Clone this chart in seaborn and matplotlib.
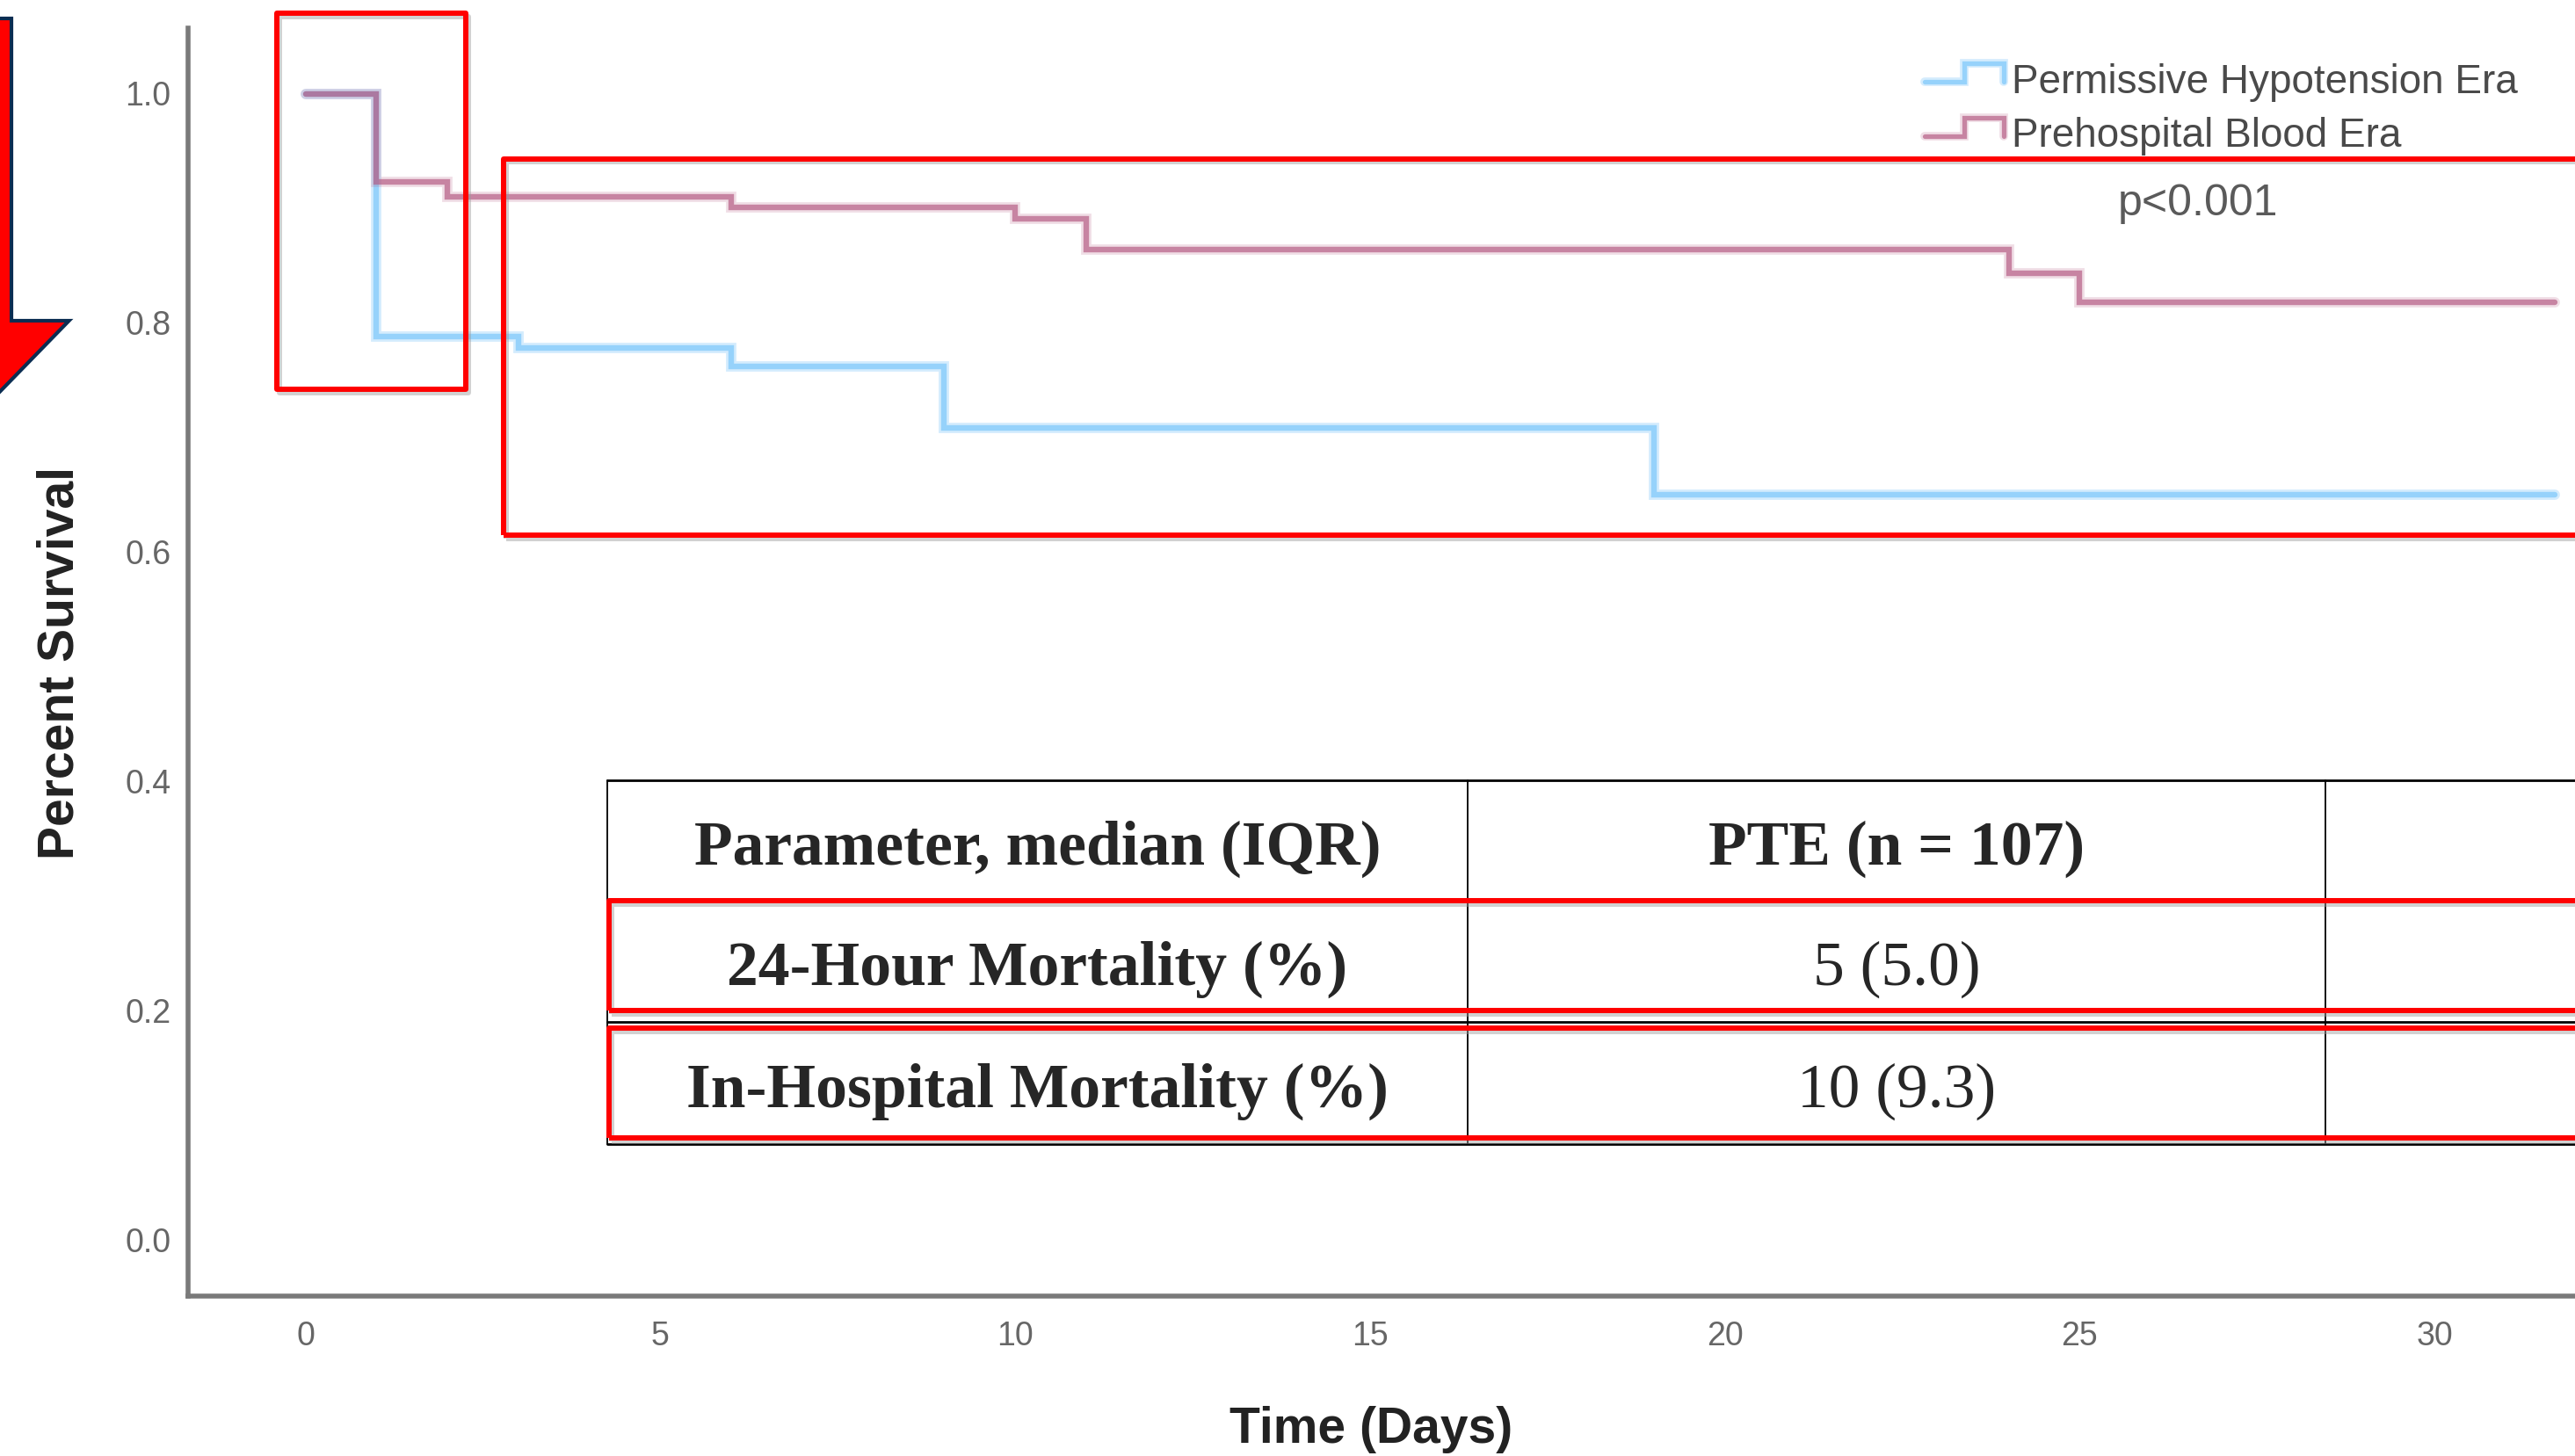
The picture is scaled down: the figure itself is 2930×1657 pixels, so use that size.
import numpy as np
import pandas as pd
import matplotlib
matplotlib.use("Agg")
import matplotlib.pyplot as plt
from matplotlib.lines import Line2D
from matplotlib.patches import Rectangle, Polygon
from matplotlib.legend_handler import HandlerBase
import seaborn as sns

# ---------------- data ----------------
time_ph = [0, 1, 3, 6, 9, 19, 31.7]
surv_ph = [1.0, 0.788, 0.778, 0.762, 0.708, 0.650, 0.650]
time_pb = [0, 1, 2, 6, 10, 11, 24, 25, 31.7]
surv_pb = [1.0, 0.923, 0.910, 0.901, 0.891, 0.864, 0.843, 0.818, 0.818]
series_labels = ["Permissive Hypotension Era", "Prehospital Blood Era"]
p_text = "p<0.001"
x_ticks = [0, 5, 10, 15, 20, 25, 30]
y_ticks = [0.0, 0.2, 0.4, 0.6, 0.8, 1.0]
y_ticklabels = ["0.0", "0.2", "0.4", "0.6", "0.8", "1.0"]
x_label = "Time (Days)"
y_label = "Percent Survival"
table_header = ["Parameter, median (IQR)", "PTE (n = 107)"]
table_params = ["24-Hour Mortality (%)", "In-Hospital Mortality (%)"]
table_values = ["5 (5.0)", "10 (9.3)"]

# ---------------- style ----------------
sns.set_theme(style="white")
plt.rcParams["font.family"] = ["Liberation Sans", "DejaVu Sans"]

W, H = 2930, 1657
fig = plt.figure(figsize=(W / 100, H / 100), dpi=100)
fig.patch.set_facecolor("white")


def fx(x):
    return x / W


def fy(y):
    return 1 - y / H


ax_left, ax_right, ax_top, ax_bot = 214, 2930, 32, 1475
ax = fig.add_axes([fx(ax_left), fy(ax_bot), (ax_right - ax_left) / W, (ax_bot - ax_top) / H])
ax.set_facecolor("white")

BLUE_CORE, BLUE_HALO = "#96d2fb", "#d4ecfd"
RED_BASE = "#b45a82"

df_ph = pd.DataFrame({"t": time_ph, "s": surv_ph})
df_pb = pd.DataFrame({"t": time_pb, "s": surv_pb})

sns.lineplot(data=df_ph, x="t", y="s", drawstyle="steps-post", estimator=None, sort=False,
             color=BLUE_HALO, lw=8.5, ax=ax, legend=False, solid_joinstyle="miter")
sns.lineplot(data=df_ph, x="t", y="s", drawstyle="steps-post", estimator=None, sort=False,
             color=BLUE_CORE, lw=4.6, ax=ax, legend=False, solid_joinstyle="miter")
sns.lineplot(data=df_pb, x="t", y="s", drawstyle="steps-post", estimator=None, sort=False,
             color=RED_BASE, alpha=0.2, lw=8.5, ax=ax, legend=False, solid_joinstyle="miter")
sns.lineplot(data=df_pb, x="t", y="s", drawstyle="steps-post", estimator=None, sort=False,
             color=RED_BASE, alpha=0.68, lw=4.6, ax=ax, legend=False, solid_joinstyle="miter")

# axis mapping: x=0 at px 347.6, 80.75 px/day ; y=1 at 106.5, y=0 at 1410.8
xpx0, xppd = 347.6, 80.75
ax.set_xlim((ax_left - xpx0) / xppd, (ax_right - xpx0) / xppd)
y1, y0 = 106.5, 1410.8
ppu = y0 - y1
ax.set_ylim(-(ax_bot - y0) / ppu, 1 + (y1 - ax_top) / ppu)

ax.set_xticks(x_ticks)
ax.set_xticklabels([str(v) for v in x_ticks])
ax.set_yticks(y_ticks)
ax.set_yticklabels(y_ticklabels)
ax.tick_params(axis="both", length=0, labelsize=27, colors="#666666")
ax.tick_params(axis="y", pad=14)
ax.tick_params(axis="x", pad=20)

for side in ["top", "right"]:
    ax.spines[side].set_visible(False)
for side in ["left", "bottom"]:
    ax.spines[side].set_color("#7a7a7a")
    ax.spines[side].set_linewidth(4.0)

ax.set_xlabel(x_label, fontsize=41, fontweight="bold", color="#222222")
ax.xaxis.set_label_coords((1560 - ax_left) / (ax_right - ax_left), (ax_bot - 1600) / (ax_bot - ax_top))
ax.set_ylabel(y_label, fontsize=41, fontweight="bold", color="#222222")
ax.yaxis.set_label_coords((95 - ax_left) / (ax_right - ax_left), (ax_bot - 755) / (ax_bot - ax_top))


# ---------------- legend ----------------
class StepHandler(HandlerBase):
    def __init__(self, layers):
        super().__init__()
        self.layers = layers

    def create_artists(self, legend, orig_handle, xdescent, ydescent, width, height, fontsize, trans):
        x0 = -xdescent
        lo = -ydescent + 0.40 * height
        hi = -ydescent + 1.05 * height
        xs = [x0, x0 + 0.5 * width, x0 + 0.5 * width, x0 + width, x0 + width]
        ys = [lo, lo, hi, hi, lo]
        arts = []
        for col, lw, a in self.layers:
            ln = Line2D(xs, ys, color=col, lw=lw, alpha=a, solid_joinstyle="miter")
            ln.set_transform(trans)
            arts.append(ln)
        return arts


h1 = Line2D([], [], color=BLUE_CORE)
h2 = Line2D([], [], color=RED_BASE)
leg = ax.legend([h1, h2], series_labels,
                handler_map={h1: StepHandler([(BLUE_HALO, 7, 1), (BLUE_CORE, 3.8, 1)]),
                             h2: StepHandler([(RED_BASE, 7, 0.2), (RED_BASE, 3.8, 0.68)])},
                loc="upper left", bbox_to_anchor=(fx(2190), fy(72)), bbox_transform=fig.transFigure,
                frameon=False, fontsize=33, handlelength=1.96, handletextpad=0.2,
                borderpad=0, borderaxespad=0, labelspacing=0.38)
for t in leg.get_texts():
    t.set_color("#4a4a4a")

fig.text(fx(2501), fy(245), p_text, fontsize=36, color="#5a5a5a", ha="center", va="baseline")

# ---------------- table ----------------
tab_l, col1, col2, tab_r = 691, 1670, 2646, 2960
tab_t, hdr_b, row_sep, tab_b = 888, 1025, 1163, 1302
fig.add_artist(Rectangle((fx(tab_l), fy(tab_b)), (tab_r - tab_l) / W, (tab_b - tab_t) / H,
                         transform=fig.transFigure, facecolor="white", edgecolor="none", zorder=5))
for yy in [tab_t, tab_b, row_sep, hdr_b]:
    fig.add_artist(Line2D([fx(tab_l), fx(tab_r)], [fy(yy), fy(yy)], transform=fig.transFigure,
                          color="black", lw=2.0, zorder=6))
for xx in [tab_l, col1, col2]:
    fig.add_artist(Line2D([fx(xx), fx(xx)], [fy(tab_t), fy(tab_b)], transform=fig.transFigure,
                          color="black", lw=1.3, zorder=6))

c1x = (tab_l + col1) / 2
c2x = (col1 + col2) / 2
serif = ["Liberation Serif", "DejaVu Serif"]
row_base = [984, 1121, 1260]
fig.text(fx(c1x), fy(row_base[0]), table_header[0], family=serif, fontsize=51.5, fontweight="bold",
         ha="center", va="baseline", zorder=7)
fig.text(fx(c2x), fy(row_base[0]), table_header[1], family=serif, fontsize=51.5, fontweight="bold",
         ha="center", va="baseline", zorder=7)
for i in range(2):
    fig.text(fx(c1x), fy(row_base[i + 1]), table_params[i], family=serif, fontsize=51.5,
             fontweight="bold", ha="center", va="baseline", zorder=7)
    fig.text(fx(c2x), fy(row_base[i + 1]), table_values[i], family=serif, fontsize=51.5,
             fontweight="normal", ha="center", va="baseline", zorder=7)


# ---------------- red highlight boxes ----------------
def red_box(x0, y0, x1, y1):
    for dx, dy, col, a in [(3, 4, "#9a9a9a", 0.45), (0, 0, "#ff0000", 1.0)]:
        fig.add_artist(Rectangle((fx(x0 + dx), fy(y1 + dy)), (x1 - x0) / W, (y1 - y0) / H,
                                 transform=fig.transFigure, facecolor="none", edgecolor=col,
                                 alpha=a, lw=4.3, joinstyle="round", zorder=9))


red_box(315, 14.5, 530, 442.5)
red_box(572.5, 180.5, 2960, 609)
red_box(692.5, 1025, 2960, 1149.5)
red_box(692.5, 1169.5, 2960, 1294.5)

# ---------------- arrow at the left ----------------
arrow_pts = [(-45, 21), (13, 21), (13, 365), (78.5, 365), (-16, 462), (-110, 365), (-45, 365)]
fig.add_artist(Polygon([(fx(x), fy(y)) for x, y in arrow_pts], closed=True, transform=fig.transFigure,
                       facecolor="#ff0000", edgecolor="#0b2d52", lw=3.0, joinstyle="miter", zorder=10))

fig.savefig("out.png", dpi=100, facecolor="white")
